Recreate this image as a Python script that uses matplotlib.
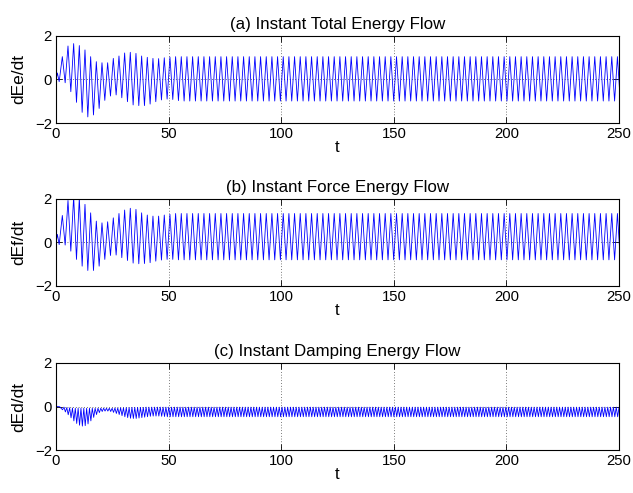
import numpy as np
import matplotlib.pyplot as plt

plt.rcParams['font.family'] = ['Liberation Sans', 'DejaVu Sans']

# time base of the oscillation
t_end = 250
period = 2.515
n_cyc = 100

# (a) total energy flow: first wiggle, then one peak and one trough per cycle
a_start_t = [0.0, 0.6, 1.4]
a_start_v = [0.0, 0.3, -0.1]
a_first = 2.8
a_peaks = [1.05, 1.54, 1.65, 1.56, 1.36, 1.05, 0.82, 0.77, 0.77, 0.97, 1.08,
           1.22, 1.25, 1.20, 1.08, 1.02, 0.97, 0.96, 1.00, 1.03, 1.05]
a_troughs = [-0.15, -0.56, -1.05, -1.51, -1.72, -1.63, -1.33, -0.96, -0.76,
             -0.71, -0.84, -1.02, -1.17, -1.20, -1.20, -1.13, -1.02, -0.94,
             -0.90, -0.92, -0.97]
a_peak_ss, a_trough_ss = 1.05, -0.99

# (b) force energy flow
b_start_t = [0.0, 0.6, 1.4]
b_start_v = [0.0, 0.37, -0.1]
b_first = 2.8
b_peaks = [1.24, 1.93, 2.10, 2.05, 1.75, 1.36, 0.98, 0.90, 0.95, 1.13, 1.33,
           1.49, 1.57, 1.52, 1.36, 1.26, 1.21, 1.21, 1.26, 1.29, 1.33]
b_troughs = [-0.12, -0.40, -0.78, -1.09, -1.29, -1.29, -1.09, -0.78, -0.60,
             -0.58, -0.70, -0.83, -0.95, -0.98, -0.97, -0.93, -0.86, -0.81,
             -0.78, -0.78, -0.80]
b_peak_ss, b_trough_ss = 1.33, -0.80

# (c) damping energy flow (twice the frequency, one low and one high per half cycle)
c_start_t = [0.0, 1.6]
c_start_v = [0.0, -0.01]
c_first = 2.9
c_lows = [-0.15, -0.25, -0.38, -0.52, -0.66, -0.78, -0.86, -0.90, -0.88, -0.80,
          -0.66, -0.50, -0.37, -0.28, -0.23, -0.21, -0.21, -0.23, -0.27, -0.32,
          -0.37, -0.42, -0.47, -0.51, -0.54, -0.55, -0.55, -0.53, -0.51, -0.49,
          -0.47, -0.45, -0.44, -0.44, -0.44, -0.45, -0.46, -0.47]
c_highs = [-0.03, -0.05, -0.06, -0.07, -0.08, -0.08, -0.08, -0.08, -0.08, -0.08,
           -0.08, -0.08, -0.08, -0.08, -0.08, -0.08, -0.08, -0.08, -0.07, -0.07,
           -0.06, -0.06, -0.05, -0.05, -0.04, -0.04, -0.04, -0.04, -0.04, -0.03]
c_low_ss, c_high_ss = -0.47, -0.03

titles = ['(a) Instant Total Energy Flow', '(b) Instant Force Energy Flow',
          '(c) Instant Damping Energy Flow']
ylabels = ['dEe/dt', 'dEf/dt', 'dEd/dt']


def extrema_line(start_t, start_v, first, step, ups, downs, up_ss, down_ss, n):
    # pad the transient readings with the steady values, then interleave
    ups = list(ups) + [up_ss] * (n - len(ups))
    downs = list(downs) + [down_ss] * (n - len(downs))
    k = np.arange(n)
    tt = np.empty(2 * n)
    vv = np.empty(2 * n)
    tt[0::2] = first + k * step
    tt[1::2] = first + (k + 0.5) * step
    vv[0::2] = ups
    vv[1::2] = downs
    return np.concatenate([start_t, tt]), np.concatenate([start_v, vv])


lines = [
    extrema_line(a_start_t, a_start_v, a_first, period, a_peaks, a_troughs,
                 a_peak_ss, a_trough_ss, n_cyc),
    extrema_line(b_start_t, b_start_v, b_first, period, b_peaks, b_troughs,
                 b_peak_ss, b_trough_ss, n_cyc),
    extrema_line(c_start_t, c_start_v, c_first, period / 2, c_lows, c_highs,
                 c_low_ss, c_high_ss, 2 * n_cyc),
]

fig = plt.figure(figsize=(6.33, 4.93), dpi=100)
bottoms = [0.7505, 0.420, 0.0872]
height = 0.1765

for i in range(3):
    ax = fig.add_axes([0.0885, bottoms[i], 0.8895, height])
    t, v = lines[i]
    ax.plot(t, v, color='b', lw=0.6)
    ax.set_xlim(0, t_end)
    ax.set_ylim(-2, 2)
    ax.set_xticks([0, 50, 100, 150, 200, 250])
    ax.set_yticks([-2, 0, 2])
    ax.grid(True, color='k', linestyle=(0, (1, 3)), lw=0.5)
    ax.tick_params(direction='in', top=True, right=True, length=4,
                   width=0.6, labelsize=10.7, pad=3)
    for s in ax.spines.values():
        s.set_linewidth(0.8)
    ax.set_title(titles[i], fontsize=12.2, pad=5)
    ax.set_ylabel(ylabels[i], fontsize=12.5, labelpad=6)
    ax.set_xlabel('t', fontsize=12, labelpad=-1)

fig.savefig('out.png', dpi=100)
